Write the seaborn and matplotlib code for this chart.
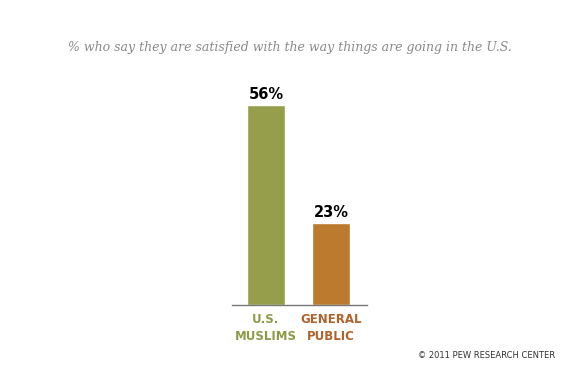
import matplotlib
matplotlib.use("Agg")
import matplotlib.pyplot as plt
import seaborn as sns
import pandas as pd

categories = ["U.S.\nMUSLIMS", "GENERAL\nPUBLIC"]
values = [56, 23]
value_labels = ["56%", "23%"]
bar_colors = ["#979E4B", "#BB7A2E"]
label_colors = ["#8E9A45", "#B0622A"]
title = "% who say they are satisfied with the way things are going in the U.S."
credit = "© 2011 PEW RESEARCH CENTER"

df = pd.DataFrame({"group": categories, "value": values})

sns.set_style("white")
fig = plt.figure(figsize=(5.75, 3.75), dpi=100)
ax = fig.add_axes([232/575, 70/375, 135/575, 210/375])
sns.barplot(data=df, x="group", y="value", hue="group", palette=bar_colors,
            width=0.585, ax=ax, legend=False, saturation=1)
ax.set_xlim(-0.523, 1.554)
ax.set_ylim(0, 58.8)
for s in ["top", "right", "left"]:
    ax.spines[s].set_visible(False)
ax.spines["bottom"].set_color("#777777")
ax.spines["bottom"].set_linewidth(1)
ax.set_yticks([])
ax.set_xlabel("")
ax.set_ylabel("")
ax.tick_params(axis="x", length=0, pad=6)
ax.set_xticks([0, 1])
ax.set_xticklabels(categories, fontsize=8.5, fontweight="bold", family="DejaVu Sans",
                   linespacing=1.35)
for t, c in zip(ax.get_xticklabels(), label_colors):
    t.set_color(c)
for i, (v, lab) in enumerate(zip(values, value_labels)):
    ax.text(i, v + 0.8, lab, ha="center", va="bottom", fontsize=10.5,
            fontweight="bold", color="black", family="DejaVu Sans")

fig.text(290/575, 1 - 47/375, title, ha="center", va="center", fontsize=9,
         style="italic", color="#8a8a8a", family="DejaVu Serif")
fig.text(555/575, 1 - 356/375, credit, ha="right", va="center", fontsize=6,
         color="#333333", family="DejaVu Sans")
fig.savefig("out.png", dpi=100)
